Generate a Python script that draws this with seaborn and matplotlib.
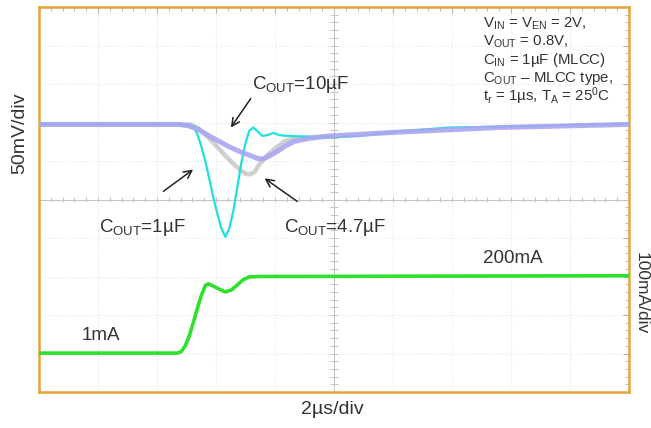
import numpy as np
import pandas as pd
import seaborn as sns
import matplotlib
matplotlib.use("Agg")
import matplotlib.pyplot as plt
from matplotlib.ticker import MultipleLocator

# time axis in microseconds (2 us/div, 10 div)
# output voltage deviation in mV (50 mV/div), load current in mA (100 mA/div)
t_10u = [0, 4.75, 5.09, 5.43, 5.77, 6.11, 6.45, 6.79, 7.13, 7.40, 7.57, 7.81,
         8.08, 8.35, 8.66, 9.17, 9.85, 12.2, 15.6, 20]
v_10u = [0, 0, -2, -7, -15, -22, -29, -35, -40, -44, -45, -41,
         -35, -28, -22, -18, -15, -10, -4, 0]

t_47u = [0, 5.16, 5.43, 5.77, 6.11, 6.45, 6.79, 7.0, 7.13, 7.30, 7.47, 7.74,
         8.01, 8.32, 8.66, 9.17, 10.0]
v_47u = [0, 0, -6, -18, -32, -46, -58, -64, -65, -62, -52, -40,
         -31, -22, -18, -17, -15]

t_1u = [0, 5.09, 5.23, 5.36, 5.50, 5.64, 5.77, 5.91, 6.04, 6.18, 6.32, 6.45,
        6.59, 6.72, 6.86, 7.0, 7.13, 7.27, 7.41, 7.57, 7.74, 7.95, 8.15, 8.49,
        9.17, 9.85, 10.87, 12.22, 13.92, 15.62, 20]
v_1u = [0, 0, -3, -12, -28, -48, -70, -95, -115, -135, -146, -135,
        -112, -82, -50, -24, -8, -4, -9, -15, -14, -11, -14, -15,
        -16, -17, -15, -9, -4, -3, 1]

t_load = [0, 4.69, 4.82, 4.96, 5.09, 5.23, 5.36, 5.50, 5.64, 5.74, 5.91, 6.11,
          6.32, 6.52, 6.72, 6.93, 7.13, 7.47, 20]
i_load = [1, 1, 5, 20, 45, 80, 115, 150, 177, 181, 175, 167,
          160, 165, 178, 192, 199, 200, 202]

V_ZERO_DIV = 6.95
I_ZERO_DIV = 1.0

plt.rcParams["mathtext.fontset"] = "custom"
plt.rcParams["mathtext.rm"] = "Liberation Sans"
plt.rcParams["mathtext.it"] = "Liberation Sans"
sns.set_style("white")
plt.rcParams["font.family"] = ["Liberation Sans", "DejaVu Sans"]

fig = plt.figure(figsize=(6.51, 4.28), dpi=100)
ax = fig.add_axes([39 / 651, 36 / 428, 590 / 651, 385 / 428])

def to_df(t, vals, zero, per_div):
    return pd.DataFrame({"t": t, "y": [zero + v / per_div for v in vals]})

sns.lineplot(data=to_df(t_47u, v_47u, V_ZERO_DIV, 50), x="t", y="y",
             color="#cfcfcf", linewidth=3.2, ax=ax, zorder=3)
sns.lineplot(data=to_df(t_1u, v_1u, V_ZERO_DIV, 50), x="t", y="y",
             color="#22dede", linewidth=1.6, ax=ax, zorder=4)
sns.lineplot(data=to_df(t_10u, v_10u, V_ZERO_DIV, 50), x="t", y="y",
             color="#a9a6f0", linewidth=3.6, alpha=0.9, ax=ax, zorder=5)
sns.lineplot(data=to_df(t_load, i_load, I_ZERO_DIV, 100), x="t", y="y",
             color="#2fe02f", linewidth=2.6, ax=ax, zorder=4)

ax.set_xlim(0, 20)
ax.set_ylim(0, 10)
ax.set_xlabel("")
ax.set_ylabel("")
ax.xaxis.set_major_locator(MultipleLocator(2))
ax.yaxis.set_major_locator(MultipleLocator(1))
ax.xaxis.set_minor_locator(MultipleLocator(0.4))
ax.yaxis.set_minor_locator(MultipleLocator(0.2))
ax.tick_params(which="both", direction="in", top=True, right=True,
               color="#b0b0b0", labelbottom=False, labelleft=False)
ax.tick_params(which="major", length=4)
ax.tick_params(which="minor", length=3)
ax.grid(which="major", color="#e6e6e6", linestyle=":", linewidth=0.8)
for s in ax.spines.values():
    s.set_color("#e6a43a")
    s.set_linewidth(1.8)

# scope centre cross with small ticks
ax.axhline(5, color="#c4c4c4", linewidth=0.7, zorder=1)
ax.axvline(10, color="#c4c4c4", linewidth=0.7, zorder=1)
ax.vlines(np.arange(0, 20.01, 0.4), 4.93, 5.07, color="#c4c4c4", linewidth=0.7, zorder=1)
ax.hlines(np.arange(0, 10.01, 0.2), 9.86, 10.14, color="#c4c4c4", linewidth=0.7, zorder=1)

fs = 13.5
ax.text(7.23, 7.99, r"C$_{\mathrm{OUT}}$=10µF", fontsize=fs, va="center", color="#333333")
ax.text(2.04, 4.28, r"C$_{\mathrm{OUT}}$=1µF", fontsize=fs, va="center", color="#333333")
ax.text(8.32, 4.28, r"C$_{\mathrm{OUT}}$=4.7µF", fontsize=fs, va="center", color="#333333")
ax.text(15.04, 3.47, "200mA", fontsize=fs, va="center", color="#333333")
ax.text(1.43, 1.46, "1mA", fontsize=fs, va="center", color="#333333")

arrow = dict(arrowstyle="->", color="#222222", linewidth=1.1, mutation_scale=14)
ax.annotate("", xy=(6.45, 6.81), xytext=(7.23, 7.68), arrowprops=arrow)
ax.annotate("", xy=(5.30, 5.82), xytext=(4.14, 5.17), arrowprops=arrow)
ax.annotate("", xy=(7.57, 5.59), xytext=(8.83, 4.91), arrowprops=arrow)

cond = [r"V$_{\mathrm{IN}}$ = V$_{\mathrm{EN}}$ = 2V,",
        r"V$_{\mathrm{OUT}}$ = 0.8V,",
        r"C$_{\mathrm{IN}}$ = 1µF (MLCC)",
        r"C$_{\mathrm{OUT}}$ – MLCC type,",
        r"t$_{\mathrm{r}}$ = 1µs, T$_{\mathrm{A}}$ = 25$^{0}$C"]
for k, line in enumerate(cond):
    ax.text(15.04, 9.56 - 0.47 * k, line, fontsize=10.8, va="center", color="#333333")

fig.text(20 / 651, 1 - 133 / 428, "50mV/div", rotation=90, fontsize=14,
         ha="center", va="center", color="#333333")
fig.text(641 / 651, 1 - 293 / 428, "100mA/div", rotation=270, fontsize=12.5,
         ha="center", va="center", color="#333333")
fig.text(332 / 651, 1 - 410 / 428, "2µs/div", fontsize=14,
         ha="center", va="center", color="#333333")

fig.savefig("out.png", dpi=100)
